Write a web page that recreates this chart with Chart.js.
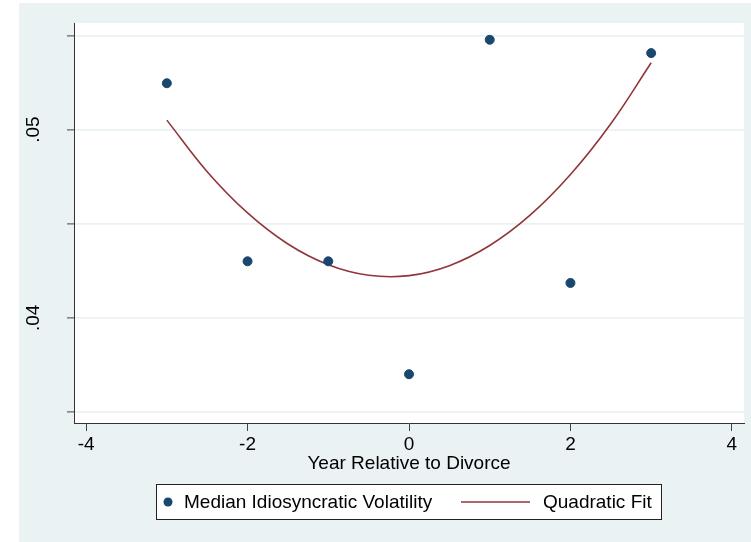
<!DOCTYPE html>
<html>
<head>
<meta charset="utf-8">
<script src="https://cdn.jsdelivr.net/npm/chart.js@4.4.1/dist/chart.umd.min.js"></script>
<style>
  html, body { margin: 0; padding: 0; background: #fff; }
  #wrap { width: 751px; height: 542px; }
</style>
</head>
<body>
<div id="wrap"><canvas id="chart" width="751" height="542"></canvas></div>
<script>
// years relative to divorce and the median volatility at each
const years = [-3, -2, -1, 0, 1, 2, 3];
const medianVol = [0.05246, 0.0430, 0.0430, 0.0370, 0.05477, 0.04185, 0.05406];

// fitted curve
const fitYears = [-3, -2.5, -2, -1.5, -1, -0.5, 0, 0.5, 1, 1.5, 2, 2.5, 3];
const fitVol = [0.0505, 0.04776, 0.04557, 0.04392, 0.04282, 0.04226, 0.04224, 0.04277, 0.04384, 0.04545, 0.04761, 0.05031, 0.05355];

const xTicks = [-4, -2, 0, 2, 4];
const yTicks = [0.035, 0.04, 0.045, 0.05, 0.055];
const yTickLabels = ['', '.04', '', '.05', ''];

const seriesNames = ['Median Idiosyncratic Volatility', 'Quadratic Fit'];

const NAVY = '#1a476f';
const MAROON = '#90353b';
const BG = '#eaf2f3';
const FONT = 'Liberation Sans, Arial, sans-serif';

const backdrop = {
  id: 'backdrop',
  beforeDraw(chart) {
    const { ctx, chartArea: a } = chart;
    ctx.save();
    ctx.fillStyle = '#fff';
    ctx.fillRect(0, 0, chart.width, chart.height);
    ctx.fillStyle = BG;
    ctx.fillRect(19, 3, chart.width - 19, chart.height - 3);
    ctx.fillStyle = '#fff';
    ctx.fillRect(a.left, a.top, a.right - a.left, a.bottom - a.top);
    ctx.restore();
  }
};

// stata style boxed legend under the axis title
const boxLegend = {
  id: 'boxLegend',
  afterDraw(chart) {
    const ctx = chart.ctx;
    const ds = chart.data.datasets;
    ctx.save();
    ctx.fillStyle = '#fff';
    ctx.fillRect(156.5, 484.5, 505, 35);
    ctx.strokeStyle = '#222';
    ctx.lineWidth = 1;
    ctx.strokeRect(156.5, 484.5, 505, 35);
    const cy = 502;
    ctx.fillStyle = ds[0].backgroundColor;
    ctx.beginPath();
    ctx.arc(168, cy, 4.5, 0, Math.PI * 2);
    ctx.fill();
    ctx.strokeStyle = ds[1].borderColor;
    ctx.lineWidth = 1.6;
    ctx.beginPath();
    ctx.moveTo(461, cy);
    ctx.lineTo(530, cy);
    ctx.stroke();
    ctx.fillStyle = '#000';
    ctx.font = '19px ' + FONT;
    ctx.textBaseline = 'middle';
    ctx.fillText(ds[0].label, 184, cy + 1);
    ctx.fillText(ds[1].label, 543, cy + 1);
    ctx.restore();
  }
};

new Chart(document.getElementById('chart'), {
  type: 'scatter',
  data: {
    datasets: [
      {
        label: seriesNames[0],
        data: years.map((x, i) => ({ x: x, y: medianVol[i] })),
        backgroundColor: NAVY,
        borderColor: NAVY,
        borderWidth: 1,
        pointRadius: 4.5,
        order: 1
      },
      {
        label: seriesNames[1],
        type: 'line',
        data: fitYears.map((x, i) => ({ x: x, y: fitVol[i] })),
        borderColor: MAROON,
        backgroundColor: MAROON,
        borderWidth: 1.6,
        pointRadius: 0,
        tension: 0.4,
        fill: false,
        order: 2
      }
    ]
  },
  options: {
    responsive: false,
    animation: false,
    layout: { padding: { left: 0, top: 23, right: 7, bottom: 0 } },
    plugins: {
      legend: { display: false },
      tooltip: { enabled: false }
    },
    scales: {
      x: {
        type: 'linear',
        min: -4.15,
        max: 4.15,
        afterBuildTicks: s => { s.ticks = xTicks.map(v => ({ value: v })); },
        afterFit: s => { s.height = 119; s.paddingLeft = 0; s.paddingRight = 0; },
        grid: { drawOnChartArea: false, drawTicks: true, tickLength: 8, tickColor: '#444', tickWidth: 1 },
        border: { display: true, color: '#333', width: 1 },
        ticks: { color: '#000', font: { family: FONT, size: 19 }, padding: 2, maxRotation: 0 },
        title: {
          display: true,
          text: 'Year Relative to Divorce',
          color: '#000',
          font: { family: FONT, size: 19 },
          padding: { top: 0, bottom: 67 }
        }
      },
      y: {
        type: 'linear',
        min: 0.03441,
        max: 0.05566,
        afterBuildTicks: s => { s.ticks = yTicks.map(v => ({ value: v })); },
        afterFit: s => { s.width = 74; s.paddingTop = 0; s.paddingBottom = 0; },
        grid: { color: BG, lineWidth: 1.8, drawTicks: true, tickLength: 7, tickColor: '#444', tickWidth: 1 },
        border: { display: true, color: '#333', width: 1 },
        ticks: {
          color: '#000',
          font: { family: FONT, size: 19 },
          minRotation: 90,
          maxRotation: 90,
          crossAlign: 'center',
          padding: 20,
          callback: (v, i) => yTickLabels[i]
        }
      }
    }
  },
  plugins: [backdrop, boxLegend]
});
</script>
</body>
</html>
